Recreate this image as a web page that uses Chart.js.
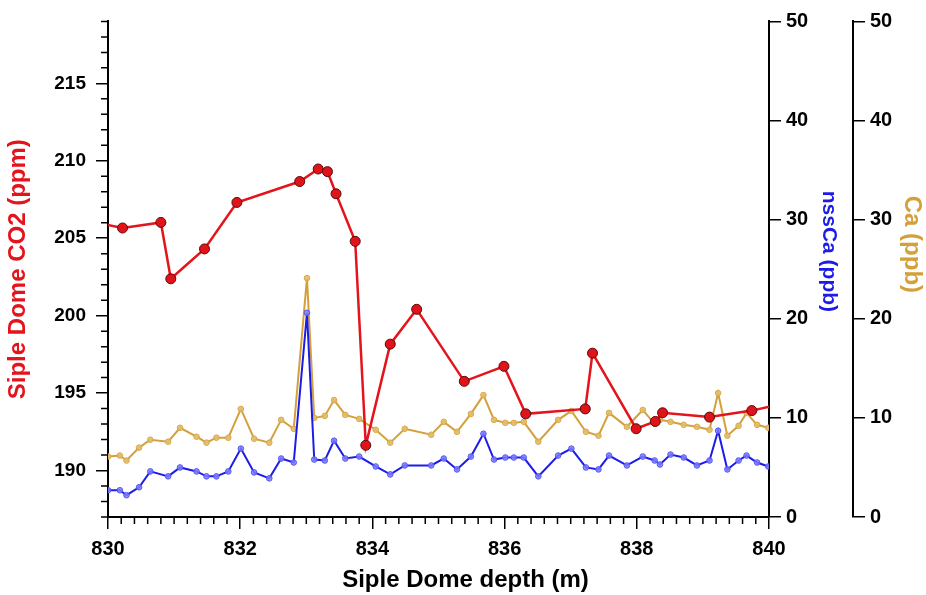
<!DOCTYPE html>
<html>
<head>
<meta charset="utf-8">
<script src="https://cdn.jsdelivr.net/npm/chart.js@4.4.1/dist/chart.umd.min.js"></script>
<style>
  html, body { margin: 0; padding: 0; background: #fff; }
  #wrap { position: relative; width: 926px; height: 595px; }
</style>
</head>
<body>
<div id="wrap"><canvas id="chart"></canvas></div>
<script>
// CO2 record (ppm) vs depth (m); first and last points sit just past the axis ends
const co2Depth = [829.9, 830.22, 830.80, 830.95, 831.46, 831.95, 832.90, 833.18, 833.32, 833.45, 833.74, 833.90,
    834.27, 834.67, 835.39, 835.99, 836.32, 837.22, 837.33, 837.99, 838.28, 838.39, 839.10, 839.74, 840.3];
const co2Values = [205.95, 205.66, 206.02, 202.38, 204.31, 207.31, 208.66, 209.47, 209.30, 207.87, 204.80, 191.63,
    198.16, 200.41, 195.76, 196.73, 193.66, 193.98, 197.58, 192.70, 193.17, 193.73, 193.45, 193.87, 194.4];

// Ca and nssCa (ppb) share the same sample depths
const ionDepth = [830.00, 830.18, 830.28, 830.47, 830.64, 830.91, 831.09, 831.34, 831.49, 831.64, 831.82, 832.01,
    832.21, 832.44, 832.62, 832.81, 833.01, 833.12, 833.28, 833.42, 833.59, 833.80, 834.05, 834.27, 834.49, 834.89,
    835.08, 835.28, 835.49, 835.68, 835.84, 836.01, 836.14, 836.29, 836.51, 836.81, 837.01, 837.23, 837.42, 837.58,
    837.85, 838.09, 838.27, 838.35, 838.51, 838.71, 838.91, 839.10, 839.23, 839.37, 839.54, 839.66, 839.82, 839.99];
const caValues = [6.1, 6.2, 5.7, 7.0, 7.8, 7.6, 9.0, 8.1, 7.5, 8.0, 8.0, 10.9,
    7.9, 7.5, 9.8, 8.9, 24.1, 10.0, 10.2, 11.8, 10.3, 9.9, 8.8, 7.5, 8.9, 8.3,
    9.6, 8.6, 10.4, 12.3, 9.8, 9.5, 9.5, 9.6, 7.6, 9.8, 10.7, 8.6, 8.2, 10.5,
    9.1, 10.8, 9.4, 9.8, 9.6, 9.3, 9.1, 8.8, 12.5, 8.2, 9.2, 10.5, 9.3, 9.0];
const nssCaValues = [2.7, 2.7, 2.2, 3.0, 4.6, 4.1, 5.0, 4.6, 4.1, 4.1, 4.6, 6.9,
    4.5, 3.9, 5.9, 5.5, 20.6, 5.8, 5.7, 7.7, 5.9, 6.1, 5.1, 4.3, 5.2, 5.2,
    5.9, 4.8, 6.1, 8.4, 5.8, 6.0, 6.0, 6.0, 4.1, 6.2, 6.9, 5.0, 4.8, 6.2,
    5.2, 6.1, 5.7, 5.3, 6.3, 6.0, 5.2, 5.7, 8.7, 4.8, 5.7, 6.2, 5.5, 5.1];

// tick labels
const depthTicks = [830, 832, 834, 836, 838, 840];
const co2Ticks = [190, 195, 200, 205, 210, 215];
const ppbTicks = [0, 10, 20, 30, 40, 50];

const RED = '#e3141c';
const BLUE = '#1c1ce6';
const GOLD = '#d3a03a';
const FONT = '"Liberation Sans", Arial, Helvetica, sans-serif';

Chart.defaults.font.family = FONT;

const pairs = (xs, ys) => xs.map((x, i) => ({ x: x, y: ys[i] }));

const data = {
    datasets: [{
        label: 'CO2',
        data: pairs(co2Depth, co2Values),
        yAxisID: 'y',
        borderColor: RED,
        borderWidth: 2.5,
        pointRadius: 5,
        pointBackgroundColor: '#e0121a',
        pointBorderColor: '#5a0808',
        pointBorderWidth: 1,
        clip: 0
    }, {
        label: 'nssCa',
        data: pairs(ionDepth, nssCaValues),
        yAxisID: 'yNss',
        borderColor: BLUE,
        borderWidth: 2,
        pointRadius: 2.8,
        pointBackgroundColor: 'rgba(125,125,255,0.85)',
        pointBorderColor: '#5555f0',
        pointBorderWidth: 1
    }, {
        label: 'Ca',
        data: pairs(ionDepth, caValues),
        yAxisID: 'yCa',
        borderColor: GOLD,
        borderWidth: 2,
        pointRadius: 2.8,
        pointBackgroundColor: 'rgba(226,190,110,0.9)',
        pointBorderColor: '#d6a848',
        pointBorderWidth: 1
    }]
};

const tickFont = (size) => ({ size: size, weight: 'bold' });
const axisGrid = { drawOnChartArea: false, tickLength: 12, color: '#000', lineWidth: 1.5 };
const axisBorder = { color: '#000', width: 2 };

// small ticks between the labelled ones
const minorTicks = {
    id: 'minorTicks',
    afterDraw(chart) {
        const { ctx, chartArea: { left, bottom }, scales: { x, y } } = chart;
        ctx.save();
        ctx.strokeStyle = '#000';
        ctx.lineWidth = 1.5;
        ctx.beginPath();
        for (let i = 0; i <= 50; i++) {
            if (i % 10 === 0) continue;
            const px = x.getPixelForValue(x.min + i * 0.2);
            ctx.moveTo(px, bottom);
            ctx.lineTo(px, bottom + 7);
        }
        for (let v = y.min; v <= y.max; v++) {
            if (v % 5 === 0) continue;
            const py = y.getPixelForValue(v);
            ctx.moveTo(left, py);
            ctx.lineTo(left - 7, py);
        }
        ctx.stroke();
        ctx.restore();
    }
};

// axis titles that are not centred on their axes
const axisTitles = {
    id: 'axisTitles',
    afterDraw(chart) {
        const { ctx, chartArea: { left, right, top, bottom }, scales: { yNss, yCa } } = chart;
        ctx.save();
        ctx.textAlign = 'center';
        ctx.textBaseline = 'middle';

        ctx.font = 'bold 24px ' + FONT;
        ctx.fillStyle = '#000';
        ctx.fillText('Siple Dome depth (m)', (left + right) / 2 + 27, bottom + 63);

        ctx.save();
        ctx.translate(yNss.left + 60, top + 230);
        ctx.rotate(Math.PI / 2);
        ctx.font = 'bold 21px ' + FONT;
        ctx.fillStyle = BLUE;
        ctx.fillText('nssCa (ppb)', 0, 0);
        ctx.restore();

        ctx.save();
        ctx.translate(yCa.left + 59, top + 223);
        ctx.rotate(Math.PI / 2);
        ctx.font = 'bold 24px ' + FONT;
        ctx.fillStyle = GOLD;
        ctx.fillText('Ca (ppb)', 0, 0);
        ctx.restore();

        ctx.restore();
    }
};

const config = {
    type: 'line',
    data,
    options: {
        responsive: true,
        maintainAspectRatio: false,
        devicePixelRatio: 1,
        animation: false,
        layout: { padding: { top: 20, left: 0, right: 0, bottom: 0 } },
        plugins: { legend: { display: false }, tooltip: { enabled: false } },
        elements: { line: { tension: 0 } },
        scales: {
            x: {
                type: 'linear',
                min: 830,
                max: 840,
                afterBuildTicks: (s) => { s.ticks = depthTicks.map(v => ({ value: v })); },
                afterFit: (s) => { s.height = 78; },
                ticks: { font: tickFont(20), color: '#000', padding: 8, maxRotation: 0 },
                grid: axisGrid,
                border: axisBorder
            },
            y: {
                position: 'left',
                min: 187,
                max: 219,
                afterBuildTicks: (s) => { s.ticks = co2Ticks.map(v => ({ value: v })); },
                afterFit: (s) => { s.width = 108; },
                ticks: { font: tickFont(19), color: '#000', padding: 10 },
                grid: axisGrid,
                border: axisBorder,
                title: {
                    display: true,
                    text: 'Siple Dome CO2 (ppm)',
                    color: RED,
                    font: { size: 24, weight: 'bold' },
                    padding: { top: 4, bottom: 0 }
                }
            },
            yNss: {
                position: 'right',
                min: 0,
                max: 50,
                afterBuildTicks: (s) => { s.ticks = ppbTicks.map(v => ({ value: v })); },
                afterFit: (s) => { s.width = 84; },
                ticks: { font: tickFont(20), color: '#000', padding: 5 },
                grid: axisGrid,
                border: axisBorder
            },
            yCa: {
                position: 'right',
                min: 0,
                max: 50,
                afterBuildTicks: (s) => { s.ticks = ppbTicks.map(v => ({ value: v })); },
                afterFit: (s) => { s.width = 73; },
                ticks: { font: tickFont(20), color: '#000', padding: 5 },
                grid: axisGrid,
                border: axisBorder
            }
        }
    },
    plugins: [minorTicks, axisTitles]
};

const myChart = new Chart(document.getElementById('chart'), config);
</script>
</body>
</html>
